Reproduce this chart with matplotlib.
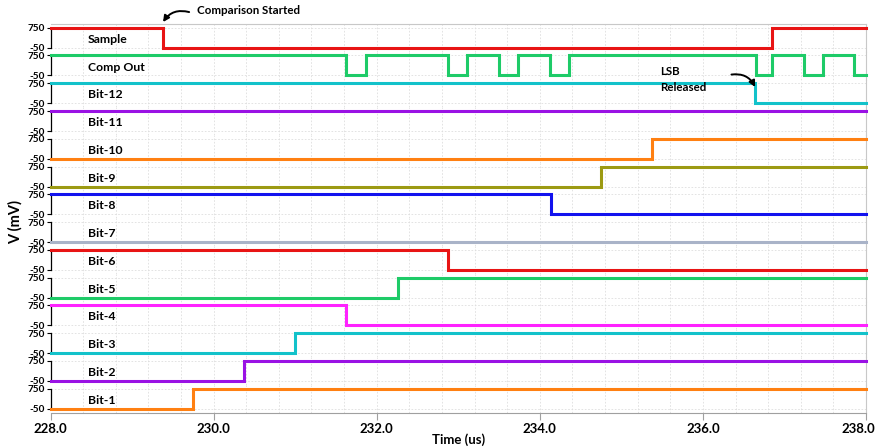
import matplotlib
matplotlib.use("Agg")
import matplotlib.pyplot as plt
from matplotlib.ticker import MultipleLocator, FixedLocator
from matplotlib.transforms import ScaledTranslation

plt.rcParams['font.family'] = ['Lato', 'DejaVu Sans']
plt.rcParams['font.weight'] = 'bold'

# ---------------- data ----------------
T_START, T_END = 228.0, 238.0
HIGH, LOW = 750, -50

sample_times = [228.0, 229.38, 236.85]
sample_levels = [750, -50, 750]

comp_times = [228.0, 231.62, 231.87, 232.87, 233.11, 233.50, 233.73,
              234.13, 234.36, 236.65, 236.85, 237.24, 237.47, 237.85]
comp_levels = [750, -50, 750, -50, 750, -50, 750, -50, 750, -50, 750, -50, 750, -50]

bit_names = ["Bit-12", "Bit-11", "Bit-10", "Bit-9", "Bit-8", "Bit-7",
             "Bit-6", "Bit-5", "Bit-4", "Bit-3", "Bit-2", "Bit-1"]
bit_initial = [750, 750, -50, -50, 750, -50, 750, -50, 750, -50, -50, -50]
bit_final = [-50, 750, 750, 750, -50, -50, -50, 750, -50, 750, 750, 750]
bit_switch = [236.64, 236.00, 235.38, 234.75, 234.14, 233.50,
              232.87, 232.26, 231.62, 231.00, 230.37, 229.75]

colors = ["#e81414", "#1ecb68", "#12c2ca", "#9a12e4", "#ff8012", "#9c9a12",
          "#1212ee", "#a9b3c8", "#e81414", "#1ecb68", "#ff22ff", "#12c2ca",
          "#9a12e4", "#ff8012"]

x_ticks = [228.0, 230.0, 232.0, 234.0, 236.0, 238.0]

# ---------------- build signal list ----------------
names = ["Sample", "Comp Out"] + bit_names
times_list = [sample_times, comp_times]
levels_list = [sample_levels, comp_levels]
for ini, fin, ts in zip(bit_initial, bit_final, bit_switch):
    times_list.append([T_START, ts])
    levels_list.append([ini, fin])

# ---------------- figure ----------------
W, H = 876, 447
fig = plt.figure(figsize=(W / 100, H / 100), dpi=100)
left_px, right_px, top_px, bottom_px = 50.5, 866.0, 24.0, 412.8
n = len(names)
row_h = (bottom_px - top_px) / n

grid_kw = dict(color="#dedede", linestyle=(0, (2, 2)), linewidth=0.6)
axes = []
for i, (name, ts, lv, c) in enumerate(zip(names, times_list, levels_list, colors)):
    y_top = top_px + i * row_h
    ax = fig.add_axes([left_px / W, 1 - (y_top + row_h) / H,
                       (right_px - left_px) / W, row_h / H])
    ax.patch.set_alpha(0)
    axes.append(ax)
    ax.step(list(ts) + [T_END], list(lv) + [lv[-1]], where="post",
            color=c, lw=2.2, solid_joinstyle="miter", zorder=3, clip_on=False)
    ax.set_xlim(T_START, T_END)
    ax.set_ylim(-213, 898)
    ax.xaxis.set_major_locator(FixedLocator(x_ticks))
    ax.xaxis.set_minor_locator(MultipleLocator(0.4))
    ax.set_yticks([HIGH, LOW])
    ax.set_yticklabels(["750", "-50"], fontsize=7.2, fontweight="bold")
    for x in [T_START + 0.4 * k for k in range(1, 25)]:
        ax.axvline(x, zorder=0, **grid_kw)
    for y in (HIGH, LOW):
        ax.axhline(y, zorder=0, **grid_kw)
    ax.spines["left"].set_bounds(LOW, HIGH)
    ax.spines["left"].set_color("black")
    ax.spines["left"].set_linewidth(0.9)
    ax.spines["right"].set_color("#c8c8c8")
    ax.spines["top"].set_visible(i == 0)
    ax.spines["top"].set_color("#c8c8c8")
    ax.spines["bottom"].set_visible(i == n - 1)
    ax.spines["bottom"].set_color("#a0a0a0")
    ax.tick_params(axis="y", direction="out", length=3, width=0.8, pad=1)
    ax.tick_params(axis="x", which="minor", length=0)
    if i < n - 1:
        ax.tick_params(axis="x", which="major", bottom=False, labelbottom=False)
    else:
        ax.tick_params(axis="x", which="major", direction="out", length=5,
                       color="#a0a0a0", labelsize=9.5, pad=2)
        labels = ax.set_xticklabels([f"{t:.1f}" for t in x_ticks], fontweight="bold")
        labels[-1].set_transform(labels[-1].get_transform() +
                                 ScaledTranslation(-8 / 100, 0, fig.dpi_scale_trans))
        ax.set_xlabel("Time (us)", fontsize=9.5, fontweight="bold", labelpad=-1)
    ax.text(0.046, 0.45, name, transform=ax.transAxes, fontsize=8.8,
            fontweight="bold", va="center", ha="left", zorder=5)

fig.text(15 / W, 1 - 222 / H, "V (mV)", rotation=90, fontsize=10.5,
         fontweight="bold", va="center", ha="center")

# annotations
ax_s = axes[0]
ax_s.text(229.80, 1.47, "Comparison Started", transform=ax_s.get_xaxis_transform(),
          fontsize=8.3, fontweight="bold", va="center", ha="left")
ax_s.annotate("", xy=(sample_times[1], 1.07), xycoords=ax_s.get_xaxis_transform(),
              xytext=(229.70, 1.43), textcoords=ax_s.get_xaxis_transform(),
              arrowprops=dict(arrowstyle="-|>", color="black", lw=1.4,
                              connectionstyle="arc3,rad=0.35", mutation_scale=9,
                              shrinkA=0, shrinkB=0),
              annotation_clip=False)

ax_c = axes[1]
fig.text(235.47, 0.0, "LSB\nReleased",
         transform=ax_c.get_xaxis_transform(),
         fontsize=8.3, fontweight="bold", va="center", ha="left", linespacing=1.5,
         zorder=10)
ax_b = axes[2]
ax_b.annotate("", xy=(bit_switch[0], 0.73), xycoords=ax_b.get_xaxis_transform(),
              xytext=(236.35, 1.18), textcoords=ax_b.get_xaxis_transform(),
              arrowprops=dict(arrowstyle="-|>", color="black", lw=1.4,
                              connectionstyle="arc3,rad=-0.35", mutation_scale=9,
                              shrinkA=0, shrinkB=0),
              annotation_clip=False)

fig.savefig("out.png", dpi=100)
